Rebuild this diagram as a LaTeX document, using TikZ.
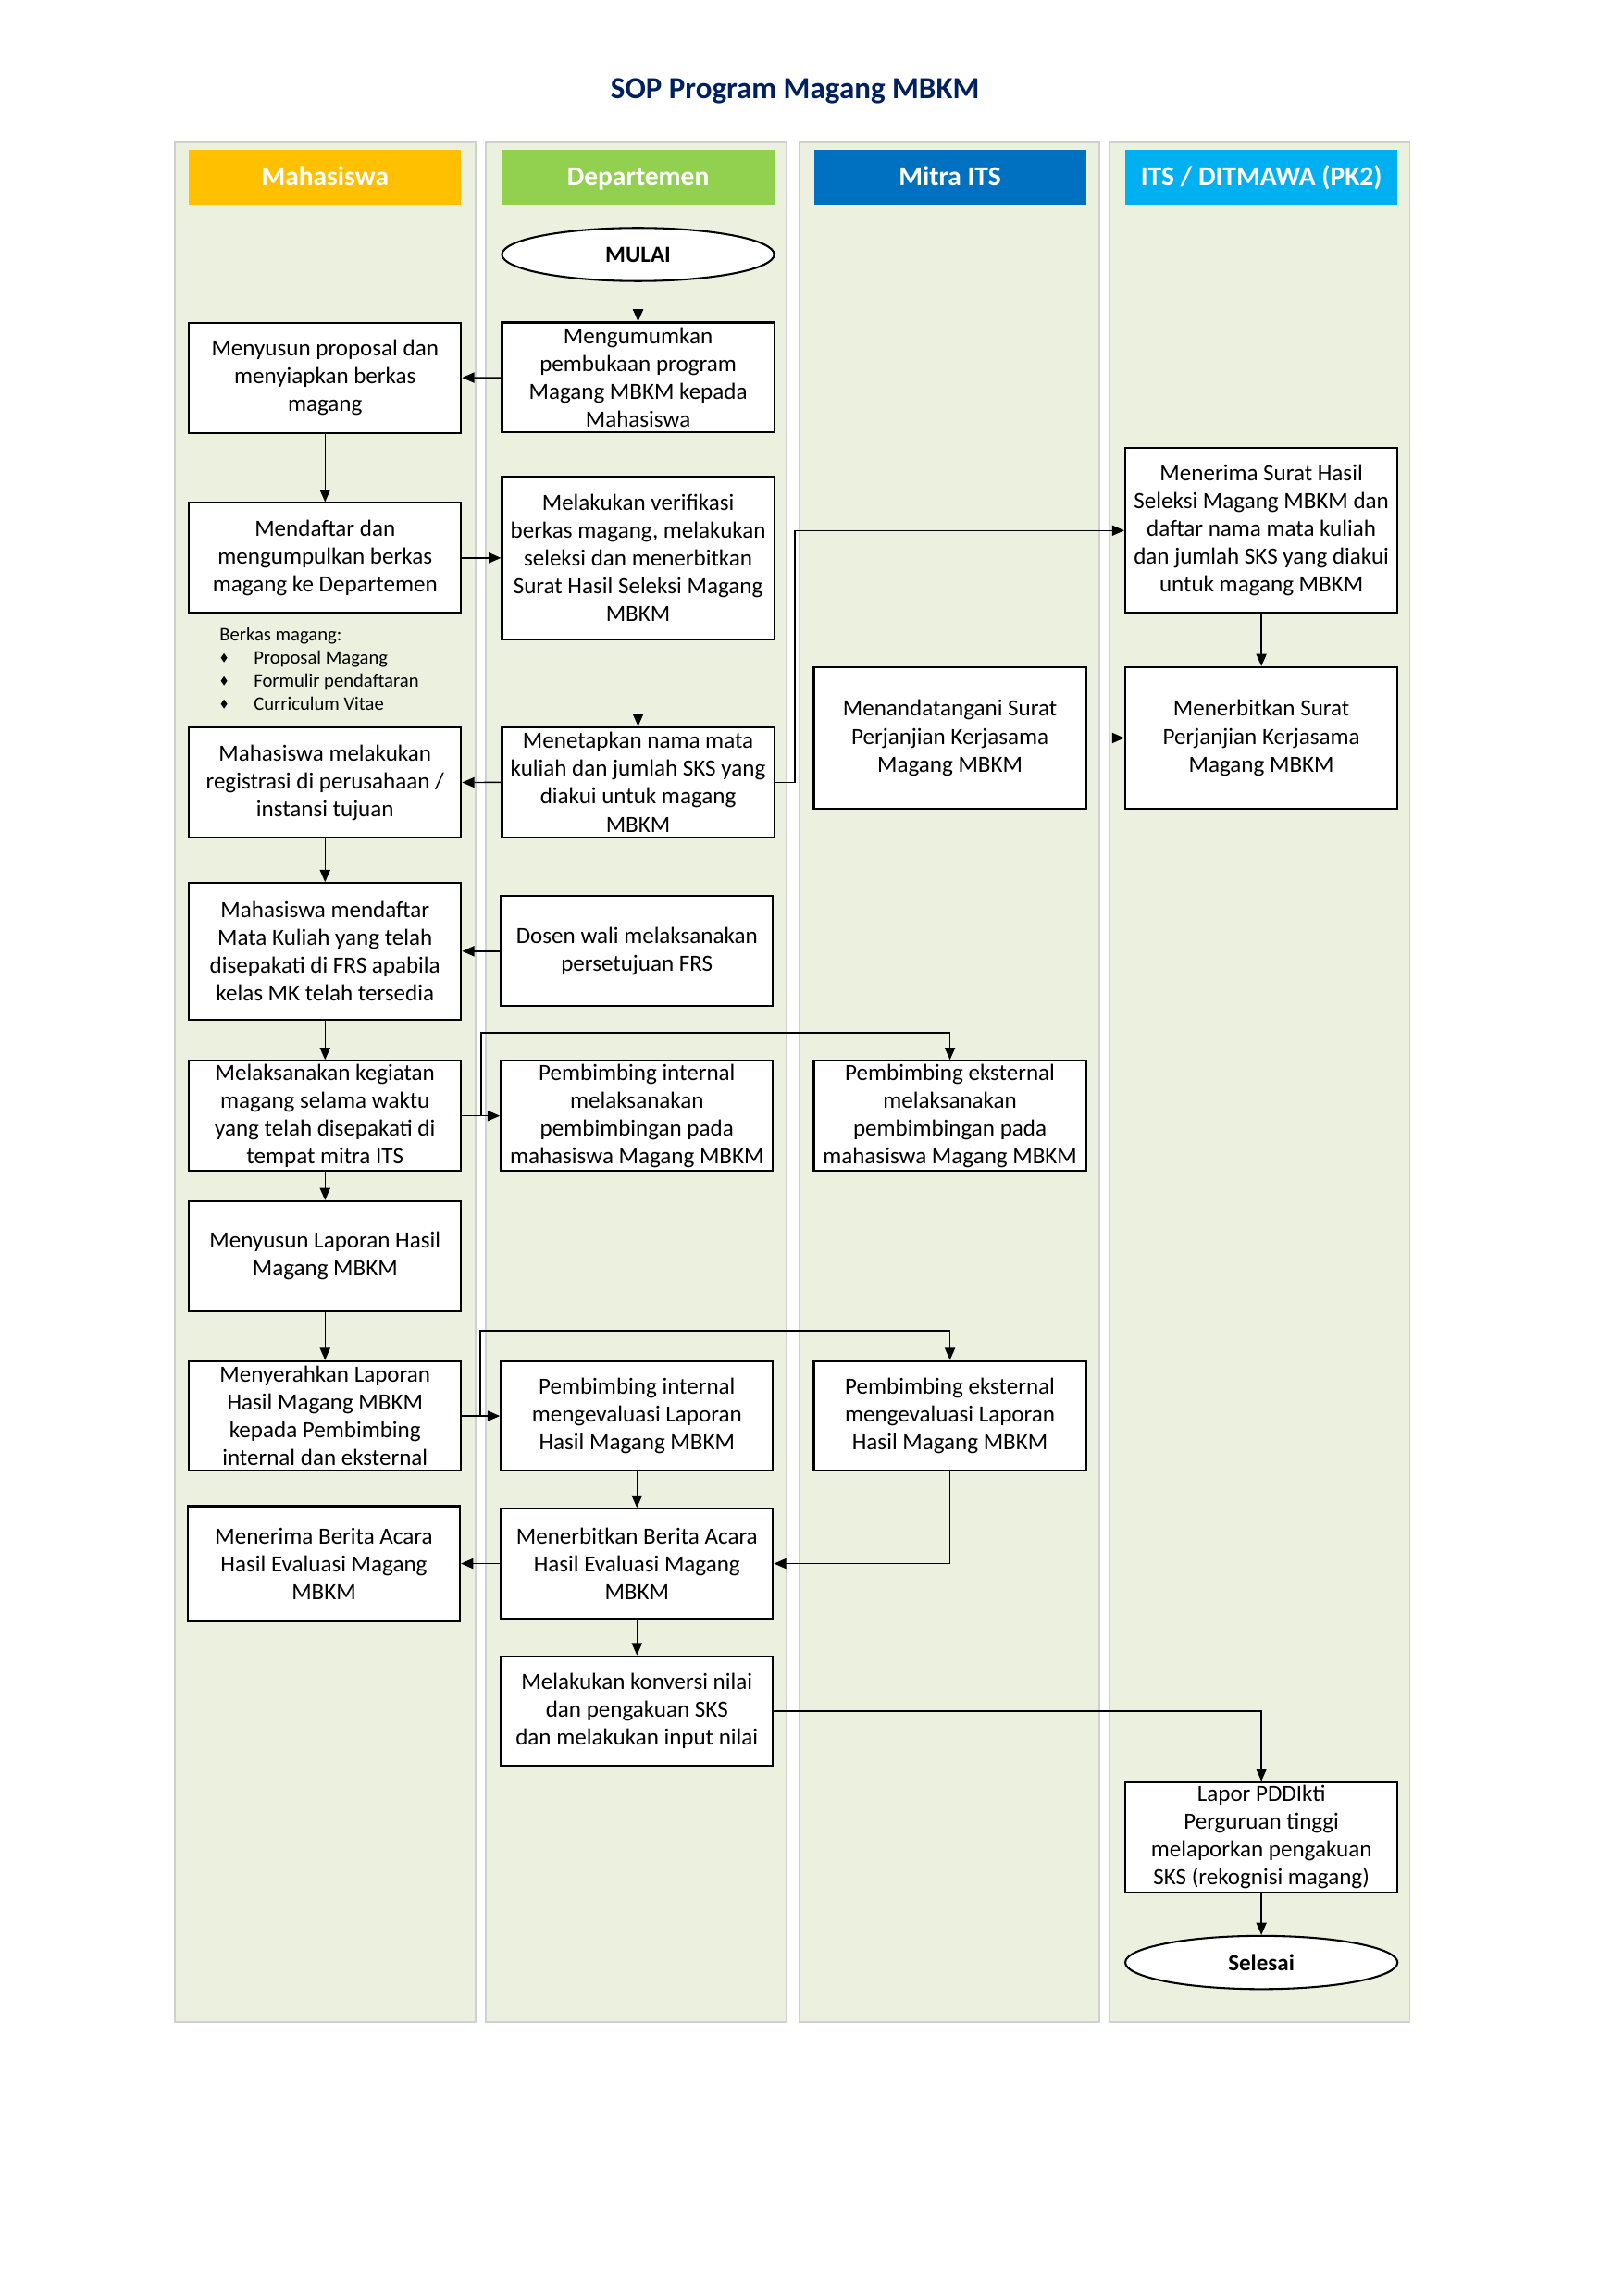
\documentclass[tikz,border=0pt]{standalone}
\usepackage{fontspec}
\setmainfont{Carlito}
\usepackage{amssymb}
\usetikzlibrary{arrows.meta, shapes.geometric}
\definecolor{lanebg}{HTML}{EBF1DE}
\definecolor{laneline}{HTML}{D0D0D0}
\definecolor{titleblue}{HTML}{002060}
\definecolor{mhsgold}{HTML}{FFC000}
\definecolor{deptgreen}{HTML}{92D050}
\definecolor{mitrablue}{HTML}{0070C0}
\definecolor{itsblue}{HTML}{00B0F0}
\newcommand{\itemdot}{\makebox[12.56pt][l]{\hspace{0.2pt}\raisebox{1pt}{\scalebox{0.55}{$\blacklozenge$}}}}
\tikzset{%
  lane/.style={draw=laneline, line width=0.6pt, fill=lanebg},
  head/.style={rectangle, minimum width=99.8pt, minimum height=20pt, inner sep=0pt,
    text height=7.6pt, text depth=1.6pt,
    text=white, font=\fontsize{10}{12}\selectfont\bfseries},
  task/.style={draw, rectangle, fill=white, line width=0.7pt, minimum width=99.8pt,
    minimum height=40.3pt, inner sep=1pt, align=center, font=\fontsize{8.5}{10.2}\selectfont},
  term/.style={draw, ellipse, fill=white, line width=0.7pt, minimum width=99.8pt,
    minimum height=19.5pt, inner sep=0pt, font=\fontsize{8.5}{10.2}\selectfont\bfseries},
  flow/.style={-{Triangle[length=4.5pt,width=3.8pt]}, line width=0.5pt},
  note/.style={inner sep=0pt, align=left, font=\fontsize{7}{8.5}\selectfont}
}
\begin{document}
\begin{tikzpicture}[x=0.5368pt, y=-0.5368pt]
  \useasboundingbox[fill=white] (0,0) rectangle (1109,1568);

  \node[font=\fontsize{11.2}{13}\selectfont\bfseries, text=titleblue] (title) at (543,62.5) {SOP Program Magang MBKM};

  % swimlanes
  \draw[lane] (119.4,96.9) rectangle (324.8,1380.7);
  \draw[lane] (332,96.9) rectangle (537.4,1380.7);
  \draw[lane] (546,96.9) rectangle (751,1380.7);
  \draw[lane] (757.5,96.9) rectangle (962.9,1380.7);

  \node[head, fill=mhsgold] (h1) at (222,121) {Mahasiswa};
  \node[head, fill=deptgreen] (h2) at (435.8,121) {Departemen};
  \node[head, fill=mitrablue] (h3) at (648.8,121) {Mitra ITS};
  \node[head, fill=itsblue] (h4) at (861.5,121) {ITS / DITMAWA (PK2)};

  % Mahasiswa
  \node[task] (susun) at (222,258) {Menyusun proposal dan\\menyiapkan berkas\\magang};
  \node[task] (daftar) at (222,381) {Mendaftar dan\\mengumpulkan berkas\\magang ke Departemen};
  \node[note, anchor=north west] (berkas) at (149.6,428) {Berkas magang:\\\itemdot Proposal Magang\\\itemdot Formulir pendaftaran\\\itemdot Curriculum Vitae};
  \node[task] (regis) at (222,534.5) {Mahasiswa melakukan\\registrasi di perusahaan /\\instansi tujuan};
  \node[task, minimum height=50pt] (frs) at (222,649.6) {Mahasiswa mendaftar\\Mata Kuliah yang telah\\disepakati di FRS apabila\\kelas MK telah tersedia};
  \node[task] (laksana) at (222,762) {Melaksanakan kegiatan\\magang selama waktu\\yang telah disepakati di\\tempat mitra ITS};
  \node[task] (laporan) at (222,857.8) {Menyusun Laporan Hasil\\Magang MBKM};
  \node[task] (serah) at (222,967) {Menyerahkan Laporan\\Hasil Magang MBKM\\kepada Pembimbing\\internal dan eksternal};
  \node[task, minimum height=42.1pt] (terimaba) at (221.2,1067.8) {Menerima Berita Acara\\Hasil Evaluasi Magang\\MBKM};

  % Departemen
  \node[term] (mulai) at (435.8,173.8) {MULAI};
  \node[task] (umum) at (435.8,257.8) {Mengumumkan\\pembukaan program\\Magang MBKM kepada\\Mahasiswa};
  \node[task, minimum height=59.9pt] (verif) at (435.8,381) {Melakukan verifikasi\\berkas magang, melakukan\\seleksi dan menerbitkan\\Surat Hasil Seleksi Magang\\MBKM};
  \node[task] (tetap) at (435.8,534.2) {Menetapkan nama mata\\kuliah dan jumlah SKS yang\\diakui untuk magang\\MBKM};
  \node[task] (dosen) at (435,649.6) {Dosen wali melaksanakan\\persetujuan FRS};
  \node[task] (intern1) at (435,762) {Pembimbing internal\\melaksanakan\\pembimbingan pada\\mahasiswa Magang MBKM};
  \node[task] (intern2) at (435,967) {Pembimbing internal\\mengevaluasi Laporan\\Hasil Magang MBKM};
  \node[task] (terbitba) at (435,1067.8) {Menerbitkan Berita Acara\\Hasil Evaluasi Magang\\MBKM};
  \node[task] (konversi) at (435,1168.6) {Melakukan konversi nilai\\dan pengakuan SKS\\dan melakukan input nilai};

  % Mitra ITS
  \node[task, minimum height=52pt] (tanda) at (648.8,504) {Menandatangani Surat\\Perjanjian Kerjasama\\Magang MBKM};
  \node[task] (extern1) at (648.8,762) {Pembimbing eksternal\\melaksanakan\\pembimbingan pada\\mahasiswa Magang MBKM};
  \node[task] (extern2) at (648.8,967) {Pembimbing eksternal\\mengevaluasi Laporan\\Hasil Magang MBKM};

  % ITS / DITMAWA
  \node[task, minimum height=60.3pt] (terimash) at (861.5,362.3) {Menerima Surat Hasil\\Seleksi Magang MBKM dan\\daftar nama mata kuliah\\dan jumlah SKS yang diakui\\untuk magang MBKM};
  \node[task, minimum height=52pt] (terbitspk) at (861.5,504) {Menerbitkan Surat\\Perjanjian Kerjasama\\Magang MBKM};
  \node[task] (lapor) at (861.5,1254.6) {Lapor PDDIkti\\Perguruan tinggi\\melaporkan pengakuan\\SKS (rekognisi magang)};
  \node[term] (selesai) at (861.5,1340.2) {Selesai};

  \coordinate (top1) at (648.8,705.2);
  \coordinate (top2) at (648.8,908.9);

  \draw[flow] (mulai) -- (umum);
  \draw[flow] (umum) -- (susun);
  \draw[flow] (susun) -- (daftar);
  \draw[flow] (daftar) -- (verif);
  \draw[flow] (verif) -- (tetap);
  \draw[flow] (tetap) -- (regis);
  \draw[flow] (tetap.east) -- ++(13.6,0) |- (terimash.west);
  \draw[flow] (terimash) -- (terbitspk);
  \draw[flow] (tanda) -- (terbitspk);
  \draw[flow] (regis) -- (frs);
  \draw[flow] (dosen) -- (frs);
  \draw[flow] (frs) -- (laksana);
  \draw[flow] (laksana) -- (intern1);
  \draw[flow] (laksana.east) -- ++(13,0) |- (top1) -- (extern1.north);
  \draw[flow] (laksana) -- (laporan);
  \draw[flow] (laporan) -- (serah);
  \draw[flow] (serah) -- (intern2);
  \draw[flow] (serah.east) -- ++(12.5,0) |- (top2) -- (extern2.north);
  \draw[flow] (intern2) -- (terbitba);
  \draw[flow] (extern2.south) |- (terbitba.east);
  \draw[flow] (terbitba) -- (terimaba);
  \draw[flow] (terbitba) -- (konversi);
  \draw[flow] (konversi.east) -| (lapor.north);
  \draw[flow] (lapor) -- (selesai);
\end{tikzpicture}
\end{document}
